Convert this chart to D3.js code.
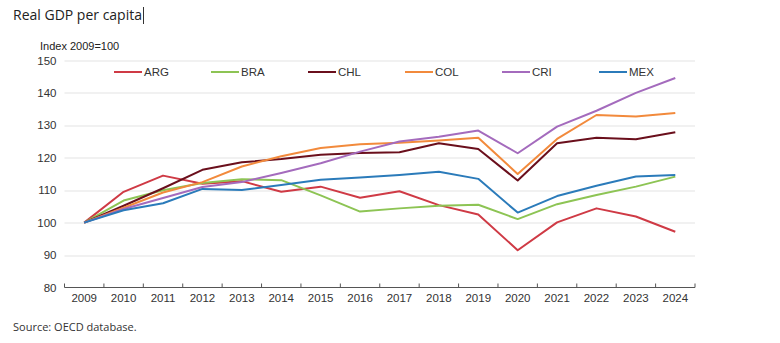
<!DOCTYPE html>
<html>
<head>
<meta charset="utf-8">
<script src="https://cdn.jsdelivr.net/npm/d3@7"></script>
<style>
  body { margin: 0; background: #fff; }
  svg { display: block; }
</style>
</head>
<body>
<svg id="chart" width="780" height="343"></svg>
<script>
var years = ["2009","2010","2011","2012","2013","2014","2015","2016","2017","2018","2019","2020","2021","2022","2023","2024"];
var yTicks = [80, 90, 100, 110, 120, 130, 140, 150];

var countries = ["ARG", "BRA", "CHL", "COL", "CRI", "MEX"];
var colors = ["#cf3a45", "#8dc454", "#6a0f1c", "#f28a3c", "#a46bbd", "#2b7bba"];

var arg = [100, 109.5, 114.5, 112, 112.8, 109.5, 111.1, 107.7, 109.7, 105.4, 102.5, 91.5, 100.1, 104.4, 101.9, 97.2];
var bra = [100, 106.8, 110, 112.2, 113.4, 113.1, 108.4, 103.4, 104.4, 105.2, 105.5, 101.1, 105.7, 108.5, 111.1, 114.2];
var chl = [100, 105.2, 110.6, 116.3, 118.6, 119.6, 120.9, 121.5, 121.7, 124.5, 122.7, 113, 124.5, 126.2, 125.7, 127.9];
var col = [100, 104.6, 109.3, 112.5, 117.3, 120.5, 123, 124.2, 124.6, 125.3, 126.2, 115, 125.8, 133.2, 132.7, 133.8];
var cri = [100, 104.2, 107.6, 111, 112.5, 115.3, 118.3, 121.9, 125, 126.5, 128.4, 121.4, 129.6, 134.5, 140, 144.6];
var mex = [100, 103.8, 106, 110.4, 110.1, 111.6, 113.2, 113.9, 114.7, 115.7, 113.5, 103.1, 108.2, 111.4, 114.2, 114.7];

var series = [arg, bra, chl, col, cri, mex];

var svg = d3.select("#chart");

var margin = {top: 60.5, right: 85, bottom: 55.5, left: 64.5};
var width = 780 - margin.left - margin.right,
    height = 343 - margin.top - margin.bottom;

var g = svg.append("g")
    .attr("transform", "translate(" + margin.left + "," + margin.top + ")");

var x = d3.scaleBand().domain(years).range([0, width]);
var y = d3.scaleLinear().domain([80, 150]).range([height, 0]);

var narrow = "Liberation Sans Narrow, Liberation Sans, Arial, sans-serif";

// title + source
var title = svg.append("text")
    .attr("x", 13).attr("y", 20)
    .attr("font-family", "Open Sans, Noto Sans, sans-serif")
    .attr("font-size", 14)
    .attr("fill", "#222")
    .text("Real GDP per capita");
var caretX = 13 + title.node().getComputedTextLength() + 1.5;
svg.append("line")
    .attr("x1", caretX).attr("x2", caretX).attr("y1", 7).attr("y2", 24)
    .attr("stroke", "#333").attr("stroke-width", 1);

svg.append("text")
    .attr("x", 13).attr("y", 331)
    .attr("font-family", "Open Sans, Noto Sans, sans-serif")
    .attr("font-size", 11)
    .attr("fill", "#333")
    .text("Source: OECD database.");

svg.append("text")
    .attr("x", 40).attr("y", 50)
    .attr("font-family", narrow)
    .attr("font-size", 11)
    .attr("fill", "#222")
    .text("Index 2009=100");

// gridlines
g.append("g").selectAll("line")
    .data(yTicks.filter(function (d) { return d > 80; }))
    .enter().append("line")
    .attr("x1", 0).attr("x2", width)
    .attr("y1", function (d) { return Math.round(y(d)) + 0.5; })
    .attr("y2", function (d) { return Math.round(y(d)) + 0.5; })
    .attr("stroke", "#e3e3e3").attr("stroke-width", 1.2);

// y axis labels
g.append("g").selectAll("text")
    .data(yTicks)
    .enter().append("text")
    .attr("x", -8)
    .attr("y", function (d) { return y(d); })
    .attr("dy", "0.35em")
    .attr("text-anchor", "end")
    .attr("font-family", narrow)
    .attr("font-size", 11.5)
    .attr("fill", "#333")
    .text(function (d) { return d; });

// x axis
var xAxis = g.append("g").attr("transform", "translate(0," + height + ")");
xAxis.append("line")
    .attr("x1", 0).attr("x2", width)
    .attr("stroke", "#555").attr("stroke-width", 1);
xAxis.selectAll(".tick")
    .data(years.concat(["end"]))
    .enter().append("line")
    .attr("x1", function (d, i) { return i * x.bandwidth(); })
    .attr("x2", function (d, i) { return i * x.bandwidth(); })
    .attr("y1", -4).attr("y2", 0)
    .attr("stroke", "#555");
xAxis.selectAll("text")
    .data(years)
    .enter().append("text")
    .attr("x", function (d) { return x(d) + x.bandwidth() / 2; })
    .attr("y", 14)
    .attr("text-anchor", "middle")
    .attr("font-family", narrow)
    .attr("font-size", 11.5)
    .attr("fill", "#333")
    .text(function (d) { return d; });

// lines
var line = d3.line()
    .x(function (d, i) { return x(years[i]) + x.bandwidth() / 2; })
    .y(function (d) { return y(d); });

g.selectAll(".series")
    .data(series)
    .enter().append("path")
    .attr("class", "series")
    .attr("d", line)
    .attr("fill", "none")
    .attr("stroke", function (d, i) { return colors[i]; })
    .attr("stroke-width", 2)
    .attr("stroke-linejoin", "round");

// legend
var legendX = [114, 211, 308, 405, 502, 599];
var legend = svg.append("g").selectAll("g")
    .data(countries)
    .enter().append("g")
    .attr("transform", function (d, i) { return "translate(" + legendX[i] + ",72)"; });
legend.append("line")
    .attr("x1", 0).attr("x2", 28)
    .attr("stroke", function (d, i) { return colors[i]; })
    .attr("stroke-width", 2);
legend.append("text")
    .attr("x", 30).attr("dy", "0.35em")
    .attr("font-family", narrow)
    .attr("font-size", 11.5)
    .attr("fill", "#333")
    .text(function (d) { return d; });
</script>
</body>
</html>
